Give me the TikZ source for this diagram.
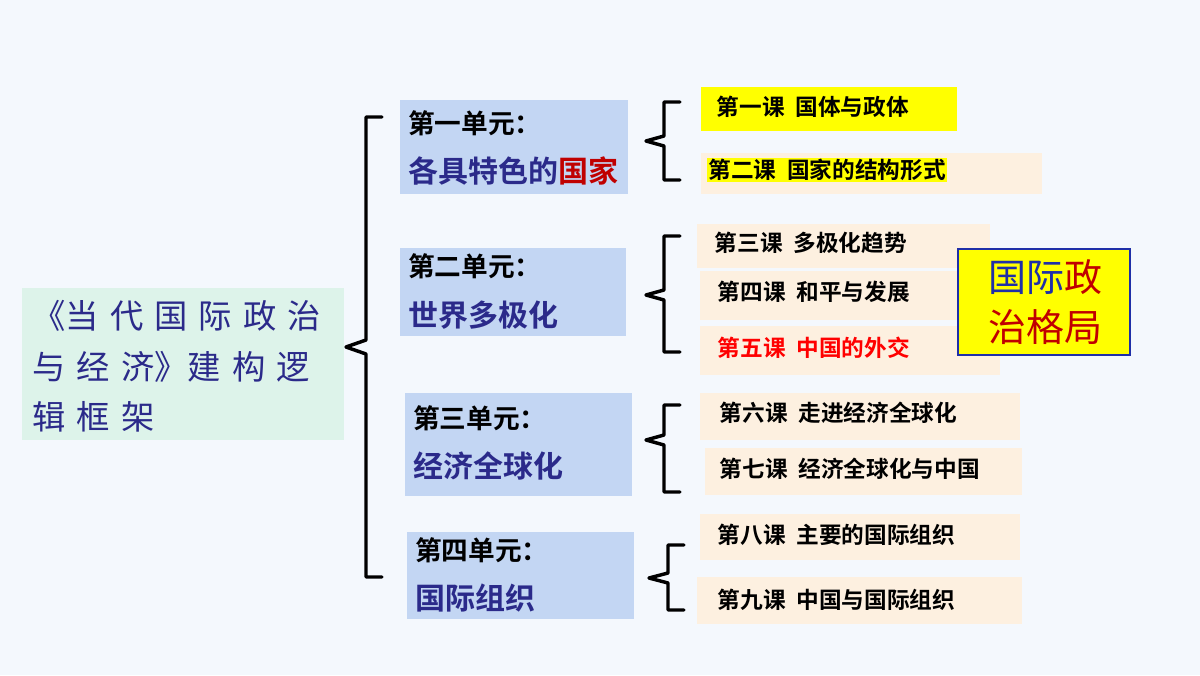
\documentclass[tikz,border=0pt]{standalone}
\usepackage{fontspec}
\newfontfamily\cjk{Noto Sans CJK SC Bold}
\newfontfamily\cjkr{Noto Sans CJK SC}
\definecolor{bgc}{HTML}{F4F8FD}
\definecolor{mint}{HTML}{DDF3EA}
\definecolor{unitc}{HTML}{C3D6F3}
\definecolor{peach}{HTML}{FDF0E0}
\definecolor{navy}{HTML}{2B2A8A}
\definecolor{dred}{HTML}{C00000}
\definecolor{ylw}{HTML}{FFFF00}
\definecolor{bord}{HTML}{1F2FA8}
\begin{document}
\begin{tikzpicture}[x=0.75pt,y=-0.75pt,
  box/.style={inner sep=0,outer sep=0},
  br/.style={line width=2.6pt,line join=round,line cap=round},
  ut/.style={anchor=west,inner sep=0,font=\cjk\fontsize{20}{22}\selectfont},
  ub/.style={anchor=west,inner sep=0,text=navy,font=\cjk\fontsize{22.5}{24}\selectfont},
  lt/.style={anchor=west,font=\cjk\fontsize{17}{18}\selectfont}]
\useasboundingbox (0,0) rectangle (1200,675);
\fill[bgc] (0,0) rectangle (1200,675);
% left box
\fill[mint] (22,288) rectangle (344,440);
\node[anchor=north west,align=left,text=navy,font=\cjkr\fontsize{25}{38}\selectfont,inner sep=0] (root) at (32,300)
 {《当\,\,代\,\,国\,\,际\,\,政\,\,治\\与\,\,经\,\,济》建\,\,构\,\,逻\\辑\,\,框\,\,架};
% big brace
\draw[br] (382,117) -- (366,117) -- (366,340) -- (346,347) -- (366,354) -- (366,577) -- (382,577);
% units
\fill[unitc] (400,100) rectangle (628,194);
\fill[unitc] (400,248) rectangle (626,336);
\fill[unitc] (405,393) rectangle (632,496);
\fill[unitc] (407,532) rectangle (634,619);
\node[ut] (u1a) at (408,123) {第一单元：};
\node[ub] (u1b) at (408,171) {各具特色的\textcolor{dred}{国家}};
\node[ut] (u2a) at (408,266) {第二单元：};
\node[ub] (u2b) at (408,315) {世界多极化};
\node[ut] (u3a) at (413,418) {第三单元：};
\node[ub] (u3b) at (413,466) {经济全球化};
\node[ut] (u4a) at (415,550) {第四单元：};
\node[ub] (u4b) at (415,598) {国际组织};
% small braces
\draw[br] (680,102) -- (664,102) -- (664,136) -- (646,141) -- (664,146) -- (664,180) -- (680,180);
\draw[br] (680,236) -- (664,236) -- (664,290) -- (646,295) -- (664,300) -- (664,352) -- (680,352);
\draw[br] (680,405) -- (664,405) -- (664,435) -- (646,440) -- (664,445) -- (664,492) -- (680,492);
\draw[br] (684,545) -- (668,545) -- (668,573) -- (649,578) -- (668,583) -- (668,610) -- (684,610);
% lessons
\fill[ylw] (701,87) rectangle (957,131);
\fill[peach] (701,153) rectangle (1042,194);
\fill[peach] (697,224) rectangle (990,268);
\fill[peach] (700,271) rectangle (962,320);
\fill[peach] (700,326) rectangle (1000,375);
\fill[peach] (700,393) rectangle (1020,440);
\fill[peach] (705,448) rectangle (1022,495);
\fill[peach] (700,514) rectangle (1020,560);
\fill[peach] (697,577) rectangle (1022,624);
\node[lt] (l1) at (712,107) {第一课\hspace{8pt}国体与政体};
\node[lt,fill=ylw,inner sep=1pt] (l2) at (707,170) {第二课\hspace{8pt}国家的结构形式};
\node[lt] (l3) at (710,243) {第三课\hspace{8pt}多极化趋势};
\node[lt] (l4) at (713,292) {第四课\hspace{8pt}和平与发展};
\node[lt,text=red] (l5) at (713,348) {第五课\hspace{8pt}中国的外交};
\node[lt] (l6) at (715,413) {第六课\hspace{8pt}走进经济全球化};
\node[lt] (l7) at (715,469) {第七课\hspace{8pt}经济全球化与中国};
\node[lt] (l8) at (713,535) {第八课\hspace{8pt}主要的国际组织};
\node[lt] (l9) at (713,600) {第九课\hspace{8pt}中国与国际组织};
% right box
\draw[bord,line width=1.5pt,fill=ylw] (958,249) rectangle (1130,355);
\node[align=left,font=\cjkr\fontsize{28.5}{37}\selectfont,inner sep=0] (gj) at (1045,302)
 {\textcolor{bord}{国际}\textcolor{dred}{政}\\\textcolor{dred}{治格局}};
\end{tikzpicture}
\end{document}
